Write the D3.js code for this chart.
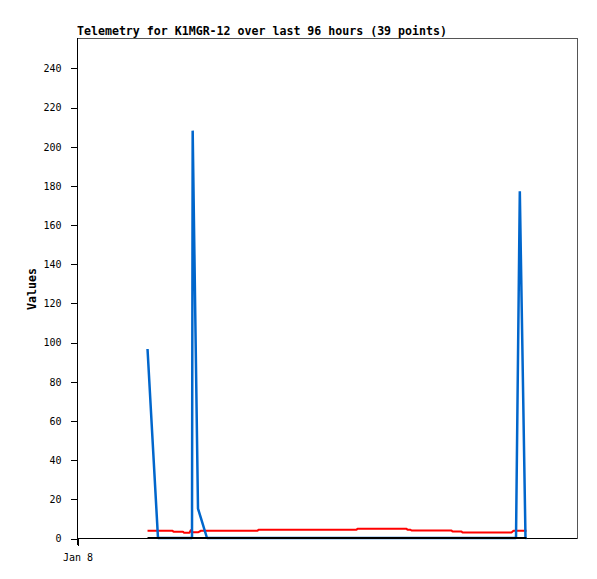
<!DOCTYPE html>
<html>
<head>
<meta charset="utf-8">
<script src="https://cdn.jsdelivr.net/npm/d3@7"></script>
<style>
  html, body { margin: 0; padding: 0; background: #fff; }
  svg { display: block; }
</style>
</head>
<body>
<svg id="chart" width="597" height="579"></svg>
<script>
// ---- data (time = hours since Jan 8 00:00) ----
const titleText = "Telemetry for K1MGR-12 over last 96 hours (39 points)";
const yTitle = "Values";
const times = [13.54, 15.55, 18.34, 18.53, 20.35, 20.54, 21.60, 21.89, 22.08, 22.21,
               23.23, 23.81, 24.96, 34.66, 34.85, 53.66, 53.86, 63.26, 63.46, 64.03,
               64.22, 71.90, 72.10, 73.82, 74.02, 83.42, 83.81, 84.29, 85.02, 86.11, 86.30];
const blueValues = [96.5, 0, 0, 0, 0, 0, 0, 0, 0, 208,
                    15, 10, 0, 0, 0, 0, 0, 0, 0, 0,
                    0, 0, 0, 0, 0, 0, 0, 0, 177, 0, 0];
const redValues = [3.7, 3.7, 3.7, 3.2, 3.2, 2.7, 2.7, 4.2, 2.9, 2.9,
                   2.9, 3.7, 3.7, 3.7, 4.2, 4.2, 4.75, 4.75, 4.2, 4.2,
                   3.8, 3.8, 3.3, 3.3, 2.8, 2.8, 3.7, 3.7, 3.7, 3.7, 3.7];
const blackValues = [0, 0, 0, 0, 0, 0, 0, 0, 0, 0,
                     0, 0, 0, 0, 0, 0, 0, 0, 0, 0,
                     0, 0, 0, 0, 0, 0, 0, 0, 0, 0, 0];
const yTickValues = [0, 20, 40, 60, 80, 100, 120, 140, 160, 180, 200, 220, 240];
const xTickValues = [0];
const xTickLabels = ["Jan 8"];
const xDomain = [0, 96];
const yDomain = [0, 255.3];

// ---- layout ----
const svg = d3.select("#chart");
const mLeft = 77, mRight = 577, mTop = 38, mBottom = 538;
const x = d3.scaleLinear().domain(xDomain).range([mLeft, mRight]);
const y = d3.scaleLinear().domain(yDomain).range([mBottom, mTop]);

const monoFont = "'DejaVu Sans Mono', 'Liberation Mono', monospace";

// frame
svg.append("rect")
  .attr("x", mLeft + 0.5).attr("y", mTop + 0.5)
  .attr("width", mRight - mLeft).attr("height", mBottom - mTop)
  .attr("fill", "none").attr("stroke", "#555").attr("stroke-width", 1)
  .attr("shape-rendering", "crispEdges");

// y axis
const yAxis = d3.axisLeft(y).tickValues(yTickValues).tickSize(7).tickPadding(9)
  .tickFormat(d3.format("d"));
const gy = svg.append("g").attr("transform", `translate(${mLeft + 0.5},0.5)`).call(yAxis);
gy.select(".domain").remove();
gy.selectAll("line").attr("stroke", "#000").attr("shape-rendering", "crispEdges");
gy.selectAll("text").attr("font-family", monoFont).attr("font-size", 10).attr("fill", "#000");
svg.append("line").attr("x1", mLeft + 0.5).attr("x2", mLeft + 0.5)
  .attr("y1", mTop).attr("y2", mBottom + 7)
  .attr("stroke", "#000").attr("shape-rendering", "crispEdges");

// x axis
const xAxis = d3.axisBottom(x).tickValues(xTickValues).tickSize(7).tickPadding(8)
  .tickFormat((d, i) => xTickLabels[i]);
const gx = svg.append("g").attr("transform", `translate(0.5,${mBottom + 0.5})`).call(xAxis);
gx.select(".domain").remove();
gx.selectAll("line").attr("stroke", "#000").attr("shape-rendering", "crispEdges");
gx.selectAll("text").attr("font-family", monoFont).attr("font-size", 10).attr("fill", "#000");
svg.append("line").attr("x1", mLeft).attr("x2", mRight)
  .attr("y1", mBottom + 0.5).attr("y2", mBottom + 0.5)
  .attr("stroke", "#000").attr("shape-rendering", "crispEdges");

// series
const line = d3.line().x(d => x(d[0])).y(d => y(d[1]));
const series = [
  { values: redValues, color: "#ff0000", width: 2 },
  { values: blueValues, color: "#0066cc", width: 2.5 },
  { values: blackValues, color: "#000000", width: 2 }
];
series.forEach(s => {
  svg.append("path")
    .datum(times.map((t, i) => [t, s.values[i]]))
    .attr("d", line)
    .attr("fill", "none")
    .attr("stroke", s.color)
    .attr("stroke-width", s.width)
    .attr("stroke-linejoin", "bevel");
});

// title
svg.append("text")
  .attr("x", mLeft).attr("y", 35)
  .attr("font-family", monoFont).attr("font-weight", "bold").attr("font-size", 11.6)
  .attr("fill", "#000")
  .text(titleText);

// y title
svg.append("text")
  .attr("transform", `translate(36,289) rotate(-90)`)
  .attr("text-anchor", "middle")
  .attr("font-family", monoFont).attr("font-weight", "bold").attr("font-size", 11.6)
  .attr("fill", "#000")
  .text(yTitle);
</script>
</body>
</html>
